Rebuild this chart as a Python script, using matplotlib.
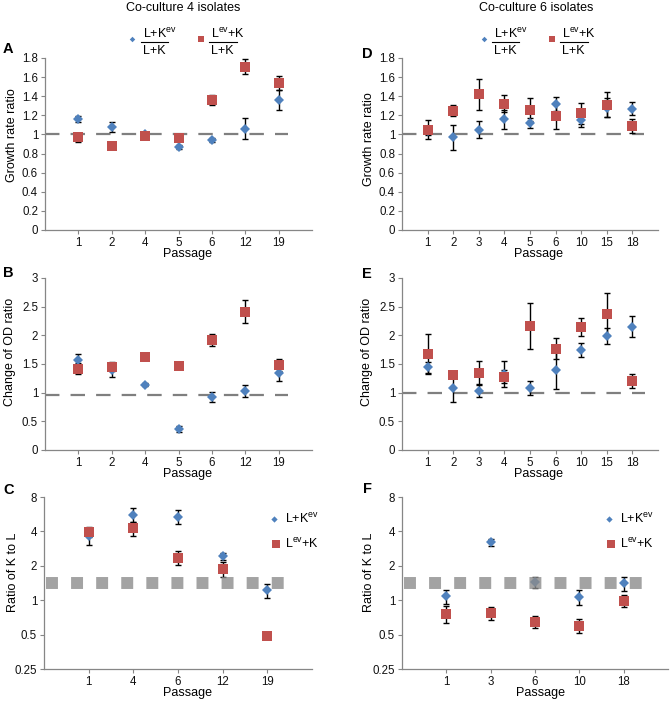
import matplotlib
matplotlib.use('Agg')
import matplotlib.pyplot as plt

plt.rcParams['font.family'] = ['Liberation Sans', 'DejaVu Sans']
plt.rcParams['mathtext.fontset'] = 'custom'
plt.rcParams['mathtext.rm'] = 'Liberation Sans'
plt.rcParams['mathtext.it'] = 'Liberation Sans:italic'
plt.rcParams['mathtext.bf'] = 'Liberation Sans:bold'

BLUE = '#4F81BD'
RED = '#C0504D'
AXC = '#868686'

# ---- co-culture 4 isolates ----
pass4 = ['1', '2', '4', '5', '6', '12', '19']
growth4_kev = [1.16, 1.08, 1.00, 0.87, 0.94, 1.06, 1.36]
growth4_kev_err = [0.03, 0.05, 0.02, 0.02, 0.02, 0.11, 0.10]
growth4_lev = [0.97, 0.88, 0.98, 0.96, 1.36, 1.71, 1.54]
growth4_lev_err = [0.05, 0.02, 0.02, 0.02, 0.05, 0.08, 0.07]
od4_kev = [1.57, 1.40, 1.14, 0.36, 0.93, 1.03, 1.34]
od4_kev_err = [0.10, 0.13, 0.03, 0.05, 0.09, 0.11, 0.14]
od4_lev = [1.42, 1.44, 1.62, 1.47, 1.92, 2.41, 1.48]
od4_lev_err = [0.10, 0.07, 0.02, 0.02, 0.10, 0.20, 0.10]
pass4_kl = ['1', '4', '6', '12', '19']
kl4_kev = [3.62, 5.6, 5.4, 2.42, 1.22]
kl4_kev_err = [0.6, 0.8, 0.75, 0.15, 0.17]
kl4_lev = [3.95, 4.25, 2.36, 1.88, 0.49]
kl4_lev_err = [0.4, 0.6, 0.33, 0.28, 0.0]

# ---- co-culture 6 isolates ----
pass6 = ['1', '2', '3', '4', '5', '6', '10', '15', '18']
growth6_kev = [1.04, 0.97, 1.05, 1.16, 1.12, 1.32, 1.15, 1.28, 1.27]
growth6_kev_err = [0.05, 0.13, 0.09, 0.10, 0.05, 0.07, 0.07, 0.10, 0.07]
growth6_lev = [1.05, 1.25, 1.42, 1.32, 1.26, 1.19, 1.22, 1.31, 1.09]
growth6_lev_err = [0.10, 0.06, 0.16, 0.09, 0.12, 0.13, 0.11, 0.13, 0.07]
od6_kev = [1.44, 1.08, 1.03, 1.33, 1.08, 1.40, 1.74, 1.99, 2.15]
od6_kev_err = [0.10, 0.25, 0.10, 0.23, 0.12, 0.33, 0.12, 0.14, 0.18]
od6_lev = [1.68, 1.30, 1.35, 1.28, 2.17, 1.77, 2.14, 2.37, 1.21]
od6_lev_err = [0.35, 0.02, 0.20, 0.12, 0.40, 0.18, 0.16, 0.36, 0.12]
pass6_kl = ['1', '3', '6', '10', '18']
kl6_kev = [1.08, 3.2, 1.44, 1.06, 1.41]
kl6_kev_err = [0.15, 0.2, 0.15, 0.16, 0.2]
kl6_lev = [0.76, 0.77, 0.65, 0.60, 0.99]
kl6_lev_err = [0.13, 0.10, 0.08, 0.08, 0.12]

# reference levels
growth_ref = 1.0
od4_ref = 0.96
od6_ref = 1.0
kl_ref = 1.42

W, H = 671, 701
fig = plt.figure(figsize=(W / 100, H / 100), dpi=100)


def px_axes(l, t, r, b):
    return fig.add_axes([l / W, 1 - b / H, (r - l) / W, (b - t) / H])


def panel(box, cats, kev, kev_err, lev, lev_err, ref, ref_end, ylabel,
          ylim, yticks, logy=False, ylab_x=-0.10, ylab_y=0.55, xlab_x=0.535):
    ax = px_axes(*box)
    x = list(range(1, len(cats) + 1))
    ax.errorbar(x, kev, yerr=kev_err, fmt='none', ecolor='black',
                elinewidth=1, capsize=2.2, capthick=1, zorder=2)
    ax.errorbar(x, lev, yerr=lev_err, fmt='none', ecolor='black',
                elinewidth=1, capsize=2.2, capthick=1, zorder=2)
    ax.plot(x, kev, 'D', color=BLUE, ms=4.6, mew=0, zorder=3)
    ax.plot(x, lev, 's', color=RED, ms=6.6, mew=0, zorder=4)
    if logy:
        ax.set_yscale('log', base=2)
        # thick grey square dashes, drawn over the points
        ax.plot([0.05, ref_end], [ref, ref], color='#8c8c8c', alpha=0.8,
                lw=8.6, ls=(0, (1.0, 1.1)), dash_capstyle='butt', zorder=5)
    else:
        ax.plot([0, ref_end], [ref, ref], color='#7f7f7f', lw=1.6,
                ls=(0, (6.5, 5.0)), zorder=1)
    ax.set_xlim(0, len(cats) + 1)
    ax.set_ylim(*ylim)
    ax.set_yticks(yticks)
    ax.set_yticklabels(['%g' % v for v in yticks])
    ax.minorticks_off()
    ax.set_xticks(x)
    ax.set_xticklabels(cats)
    for s in ['top', 'right']:
        ax.spines[s].set_visible(False)
    for s in ['left', 'bottom']:
        ax.spines[s].set_color(AXC)
        ax.spines[s].set_linewidth(0.9)
    ax.tick_params(direction='out', length=3, width=0.8, color=AXC,
                   labelsize=8.3, pad=2, labelcolor='#111111')
    ax.set_xlabel('Passage', fontsize=9)
    ax.xaxis.set_label_coords(xlab_x, -0.105)
    ax.set_ylabel(ylabel, fontsize=9)
    ax.yaxis.set_label_coords(ylab_x, ylab_y)
    return ax


panel((45, 58, 312, 230), pass4, growth4_kev, growth4_kev_err, growth4_lev,
      growth4_lev_err, growth_ref, 7.28, 'Growth rate ratio', (0, 1.8),
      [0, 0.2, 0.4, 0.6, 0.8, 1, 1.2, 1.4, 1.6, 1.8], ylab_x=-0.10, ylab_y=0.55)
panel((45, 278, 312, 450), pass4, od4_kev, od4_kev_err, od4_lev,
      od4_lev_err, od4_ref, 7.28, 'Change of OD ratio', (0, 3),
      [0, 0.5, 1, 1.5, 2, 2.5, 3], ylab_x=-0.11, ylab_y=0.57)
panel((44, 497, 312, 669), pass4_kl, kl4_kev, kl4_kev_err, kl4_lev,
      kl4_lev_err, kl_ref, 5.42, 'Ratio of K to L', (0.25, 8),
      [0.25, 0.5, 1, 2, 4, 8], logy=True, ylab_x=-0.095, ylab_y=0.565)
panel((402, 58, 658, 230), pass6, growth6_kev, growth6_kev_err, growth6_lev,
      growth6_lev_err, growth_ref, 9.45, 'Growth rate ratio', (0, 1.8),
      [0, 0.2, 0.4, 0.6, 0.8, 1, 1.2, 1.4, 1.6, 1.8], ylab_x=-0.105, ylab_y=0.53)
panel((402, 278, 658, 450), pass6, od6_kev, od6_kev_err, od6_lev,
      od6_lev_err, od6_ref, 9.5, 'Change of OD ratio', (0, 3),
      [0, 0.5, 1, 1.5, 2, 2.5, 3], ylab_x=-0.113, ylab_y=0.57)
panel((402, 497, 668, 669), pass6_kl, kl6_kev, kl6_kev_err, kl6_lev,
      kl6_lev_err, kl_ref, 5.44, 'Ratio of K to L', (0.25, 8),
      [0.25, 0.5, 1, 2, 4, 8], logy=True, ylab_x=-0.10, ylab_y=0.565,
      xlab_x=0.52)

# overlay in pixel coordinates for titles, panel letters and legends
ov = fig.add_axes([0, 0, 1, 1], zorder=10)
ov.set_xlim(0, W)
ov.set_ylim(H, 0)
ov.axis('off')

ov.text(183, 8, 'Co-culture 4 isolates', ha='center', va='center', fontsize=9)
ov.text(536, 8, 'Co-culture 6 isolates', ha='center', va='center', fontsize=9)

for letter, lx, ly in [('A', 3, 49), ('B', 3, 273), ('C', 3, 490),
                       ('D', 362, 54), ('E', 362, 274), ('F', 363, 489)]:
    ov.text(lx, ly, letter, fontsize=10.5, fontweight='bold', ha='left', va='center')

kev_lab = 'L+K$^{\\mathrm{ev}}$'
lev_lab = 'L$^{\\mathrm{ev}}$+K'

# fraction legends on top panels
for mx_b, tx_b, mx_r, tx_r in [(132, 143, 201, 211), (484, 494, 552, 562)]:
    ov.plot(mx_b, 39, 'D', color=BLUE, ms=2.8, mew=0)
    ov.text(tx_b, 38, kev_lab, ha='left', va='baseline', fontsize=9)
    ov.plot([tx_b - 2, tx_b + 25], [41.5, 41.5], color='black', lw=0.8)
    ov.text(tx_b, 54, 'L+K', ha='left', va='baseline', fontsize=9)
    ov.plot(mx_r, 39, 's', color=RED, ms=4.4, mew=0)
    ov.text(tx_r, 38, lev_lab, ha='left', va='baseline', fontsize=9)
    ov.plot([tx_r - 2, tx_r + 26], [41.5, 41.5], color='black', lw=0.8)
    ov.text(tx_r, 54, 'L+K', ha='left', va='baseline', fontsize=9)

# simple legends on bottom panels
for mx, tx in [(274, 285), (609, 620)]:
    ov.plot(mx, 519, 'D', color=BLUE, ms=3.2, mew=0)
    ov.text(tx, 523, kev_lab, ha='left', va='baseline', fontsize=9)
    ov.plot(mx + 2, 544, 's', color=RED, ms=5.5, mew=0)
    ov.text(tx, 548, lev_lab, ha='left', va='baseline', fontsize=9)

fig.savefig('out.png', dpi=100)
